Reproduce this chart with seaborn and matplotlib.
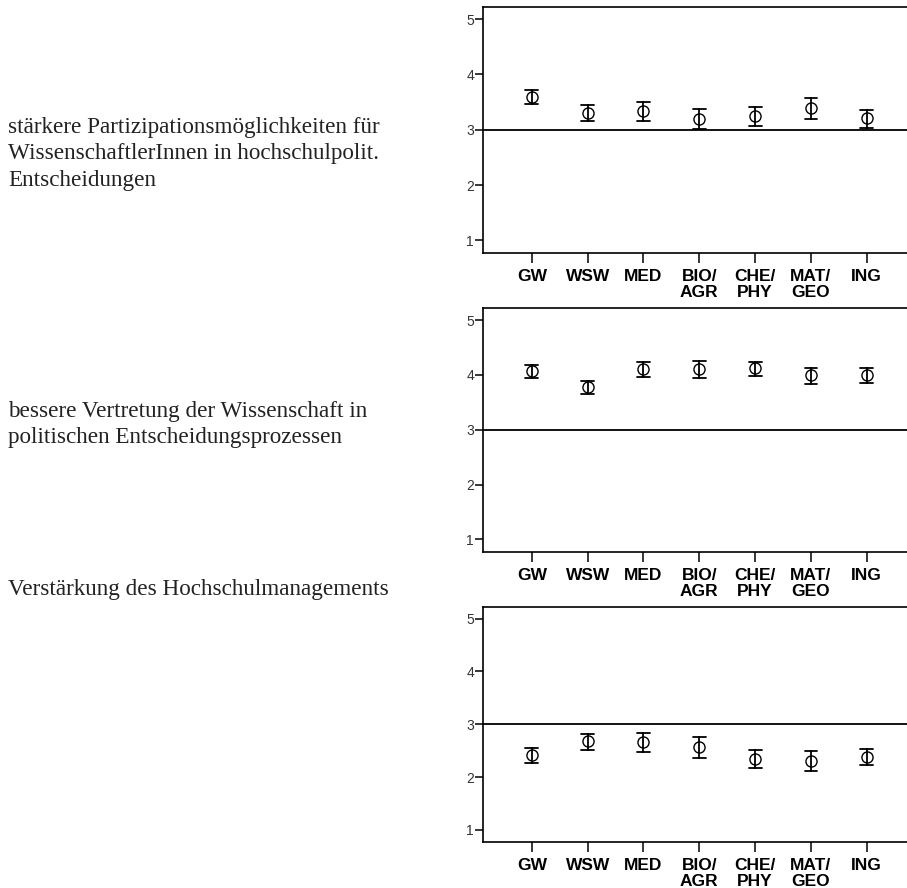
import pandas as pd
import seaborn as sns
import matplotlib.pyplot as plt

faecher = ["GW", "WSW", "MED", "BIO/\nAGR", "CHE/\nPHY", "MAT/\nGEO", "ING"]

items = [
    "stärkere Partizipationsmöglichkeiten für\nWissenschaftlerInnen in hochschulpolit.\nEntscheidungen",
    "bessere Vertretung der Wissenschaft in\npolitischen Entscheidungsprozessen",
    "Verstärkung des Hochschulmanagements",
]

# means and lower / upper ends of the error bars
mean_1 = [3.59, 3.30, 3.33, 3.19, 3.24, 3.39, 3.21]
low_1 = [3.47, 3.15, 3.16, 3.01, 3.07, 3.19, 3.04]
high_1 = [3.72, 3.44, 3.50, 3.38, 3.41, 3.58, 3.36]

mean_2 = [4.07, 3.78, 4.11, 4.11, 4.12, 3.99, 3.99]
low_2 = [3.95, 3.65, 3.97, 3.94, 3.98, 3.84, 3.85]
high_2 = [4.18, 3.89, 4.23, 4.25, 4.23, 4.13, 4.12]

mean_3 = [2.41, 2.68, 2.66, 2.57, 2.35, 2.30, 2.38]
low_3 = [2.27, 2.51, 2.47, 2.36, 2.18, 2.11, 2.22]
high_3 = [2.55, 2.82, 2.84, 2.76, 2.52, 2.49, 2.54]

panels = [(mean_1, low_1, high_1), (mean_2, low_2, high_2), (mean_3, low_3, high_3)]

sns.set_theme(style="white")
plt.rcParams['font.family'] = ['Liberation Sans', 'DejaVu Sans']

fig = plt.figure(figsize=(9.07, 8.88), dpi=100)

# axes boxes in figure fraction [left, bottom, width, height]
boxes = [
    [0.5325, 0.7151, 0.4675, 0.2770],
    [0.5325, 0.3784, 0.4675, 0.2748],
    [0.5325, 0.0518, 0.4675, 0.2646],
]
text_y = [0.8266, 0.522, 0.3356]

for (mean, low, high), box, label, ty in zip(panels, boxes, items, text_y):
    ax = fig.add_axes(box)
    # long table: low, mean, high per subject -> median = mean, 100% interval = bar ends
    df = pd.DataFrame({
        "fach": faecher * 3,
        "wert": low + mean + high,
    })
    sns.pointplot(data=df, x="fach", y="wert", order=faecher, ax=ax,
                  estimator="median", errorbar=("pi", 100),
                  color="black", marker="o", linestyle="none",
                  markersize=8, markerfacecolor="none", markeredgewidth=1.0,
                  capsize=0.23, err_kws={"linewidth": 1.3})
    ax.axhline(3, color="black", linewidth=1.3, zorder=0)
    ax.set_xlim(-0.875, 6.72)
    ax.set_ylim(0.77, 5.22)
    ax.set_yticks([1, 2, 3, 4, 5])
    ax.set_xlabel("")
    ax.set_ylabel("")
    for s in ["left", "top", "bottom"]:
        ax.spines[s].set_color("black")
        ax.spines[s].set_linewidth(1.2)
    ax.spines["right"].set_visible(False)
    ax.tick_params(axis="y", left=True, length=6, width=1.1, labelsize=10,
                   pad=0.5, colors="black", labelcolor="#333333")
    ax.tick_params(axis="x", bottom=True, length=7.5, width=1.1, labelsize=12.5,
                   pad=4, colors="black")
    for t in ax.get_xticklabels():
        t.set_fontweight("bold")
        t.set_linespacing(1.1)
    fig.text(0.009, ty, label, family=["Liberation Serif", "DejaVu Serif"],
             fontsize=16.7, va="center", ha="left", linespacing=1.32, color="#222222")

fig.savefig("out.png", dpi=100)
